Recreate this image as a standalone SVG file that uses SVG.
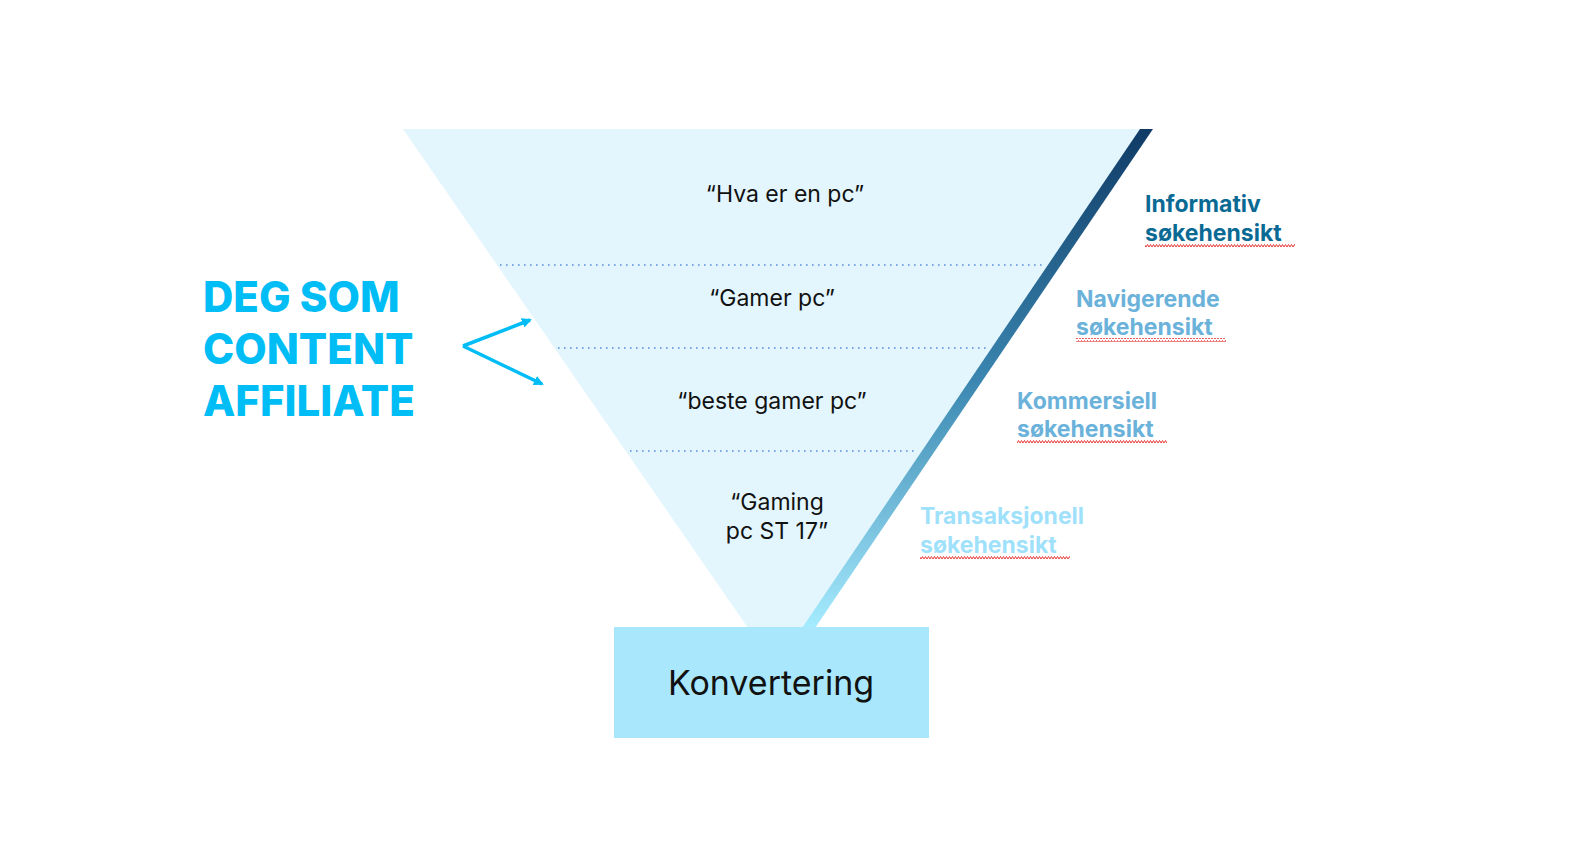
<svg xmlns="http://www.w3.org/2000/svg" width="1584" height="860" viewBox="0 0 1584 860">
<defs>
<linearGradient id="edge" x1="0" y1="0" x2="0" y2="1">
<stop offset="0" stop-color="#0f3b66"/><stop offset="0.5" stop-color="#3a86b0"/><stop offset="1" stop-color="#a6ecff"/>
</linearGradient>
<marker id="ah" markerWidth="10" markerHeight="10" refX="8" refY="5" orient="auto" markerUnits="userSpaceOnUse" viewBox="0 0 10 10">
<path d="M0,0 L10,5 L0,10 Z" fill="#00bdf5"/>
</marker>
<pattern id="wave" width="6" height="4" patternUnits="userSpaceOnUse">
<path d="M0,3 L1.5,0.5 L3,3 L4.5,0.5 L6,3" fill="none" stroke="#e53935" stroke-width="1"/>
</pattern>
<style>
.q{font-family:Inter,"Noto Sans",sans-serif;font-size:23px;fill:#111;text-anchor:middle}
.s{font-family:Inter,"Noto Sans",sans-serif;font-size:23px;font-weight:700}
.dot{stroke:#5b8fe0;stroke-width:1.6;stroke-dasharray:1.6 4.4}
</style>
</defs>
<g id="funnel">
<polygon points="403,129 1146,129 808,628 748,628" fill="#e3f6fd"/>
<polygon points="1140,129 1153,129 815,628 802,628" fill="url(#edge)"/>
</g>
<g id="dividers">
<line class="dot" x1="500" y1="265" x2="1045" y2="265"/>
<line class="dot" x1="558" y1="348" x2="990" y2="348"/>
<line class="dot" x1="630" y1="451" x2="918" y2="451"/>
</g>
<g id="stages">
<text class="q" x="785" y="202">“Hva er en pc”</text>
<text class="q" x="772" y="306">“Gamer pc”</text>
<text class="q" x="772" y="409">“beste gamer pc”</text>
<text class="q" x="777" y="510">“Gaming</text>
<text class="q" x="777" y="539">pc ST 17”</text>
</g>
<g id="conversion">
<rect x="614" y="627" width="315" height="111" fill="#a9e8fc"/>
<text x="771" y="695" font-family="Inter,'Noto Sans',sans-serif" font-size="34" fill="#111" text-anchor="middle">Konvertering</text>
</g>
<g id="intents">
<text class="s" x="1145" y="212" fill="#0a6a94">Informativ</text>
<text class="s" x="1145" y="241" fill="#0a6a94">søkehensikt</text>
<rect x="1145" y="244" width="150" height="4" fill="url(#wave)"/>
<text class="s" x="1076" y="307" fill="#6bb2da">Navigerende</text>
<text class="s" x="1076" y="335" fill="#6bb2da">søkehensikt</text>
<rect x="1076" y="338" width="150" height="4" fill="url(#wave)"/>
<text class="s" x="1017" y="409" fill="#6bb2da">Kommersiell</text>
<text class="s" x="1017" y="437" fill="#6bb2da">søkehensikt</text>
<rect x="1017" y="440" width="150" height="4" fill="url(#wave)"/>
<text class="s" x="920" y="524" fill="#9fe1fb">Transaksjonell</text>
<text class="s" x="920" y="553" fill="#9fe1fb">søkehensikt</text>
<rect x="920" y="556" width="150" height="4" fill="url(#wave)"/>
</g>
<g id="affiliate">
<text font-family="Inter,'Noto Sans',sans-serif" font-size="42" font-weight="800" fill="#00bdf5">
<tspan x="203" y="312">DEG SOM</tspan><tspan x="203" y="364">CONTENT</tspan><tspan x="203" y="416">AFFILIATE</tspan>
</text>
</g>
<g id="connectors" fill="none" stroke="#00bdf5" stroke-width="3.5">
<line x1="463" y1="346" x2="530" y2="320" marker-end="url(#ah)"/>
<line x1="463" y1="346" x2="542" y2="384" marker-end="url(#ah)"/>
</g>
</svg>
